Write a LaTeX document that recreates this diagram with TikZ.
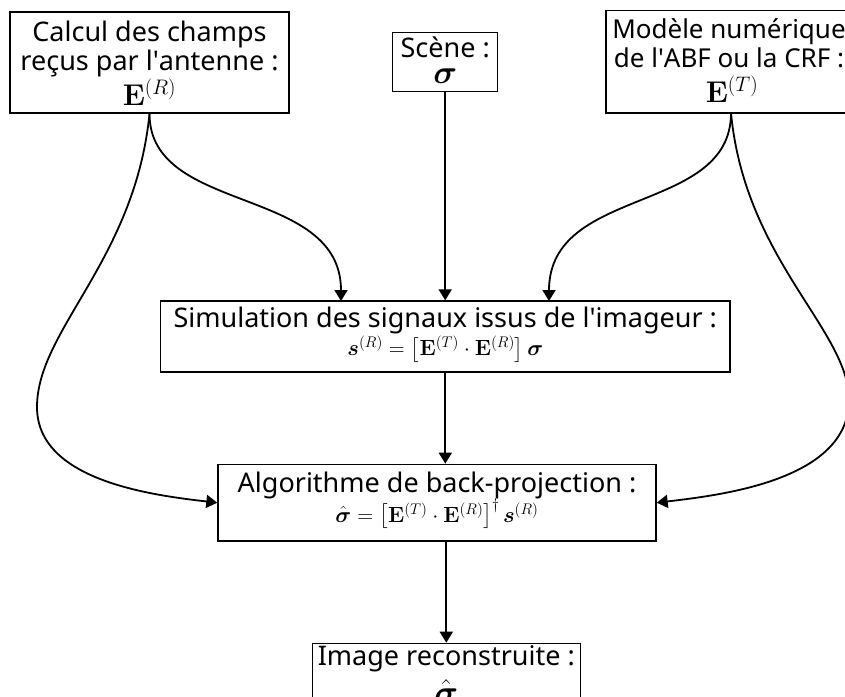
\RequirePackage{fix-cm}
\documentclass[tikz,border=0pt]{standalone}
\usepackage{amsmath}
\usepackage{bm}
\usepackage[no-math]{fontspec}
\setmainfont{Noto Sans}
\usetikzlibrary{arrows.meta}
\begin{document}
\begin{tikzpicture}[x=1pt,y=-1pt,
  box/.style={draw, line width=1.4pt, inner sep=0pt},
  lbl/.style={anchor=base, inner sep=0pt, font=\fontsize{27}{32}\selectfont},
  bigm/.style={anchor=base, inner sep=0pt, font=\fontsize{30}{32}\selectfont},
  midm/.style={anchor=base, inner sep=0pt, font=\fontsize{22}{24}\selectfont},
  sigm/.style={anchor=base, inner sep=0pt, font=\fontsize{33}{34}\selectfont},
  conn/.style={line width=1.8pt, -{Triangle[length=11pt,width=13pt]}},
]
\clip (0,0) rectangle (845,696);
% boxes
\node[box, minimum width=279pt, minimum height=101pt] (calc) at (149.5,62.5) {};
\node[box, minimum width=105pt, minimum height=59.4pt] (scene) at (445.2,62) {};
\node[box, minimum width=260pt, minimum height=102.5pt] (abf) at (736,61.75) {};
\node[box, minimum width=569.5pt, minimum height=71pt] (sim) at (445.25,336.5) {};
\node[box, minimum width=438pt, minimum height=76.7pt] (algo) at (437,502.7) {};
\node[box, minimum width=268pt, minimum height=60pt, anchor=north] (img) at (446.3,642.7) {};
% texts
\node[lbl] (calc1) at (calc.center |- 0,41) {Calcul des champs};
\node[lbl] (calc2) at (calc.center |- 0,70) {reçus par l\textquotesingle antenne :};
\node[bigm] (calc3) at (calc.center |- 0,105) {$\mathbf{E}^{(R)}$};
\node[lbl] (scene1) at (scene.center |- 0,57) {Scène :};
\node[sigm] (scene2) at (scene.center |- 0,83) {$\bm{\sigma}$};
\node[lbl, font=\fontsize{26}{31}\selectfont] (abf1) at (729,38) {Modèle numérique};
\node[lbl, font=\fontsize{26}{31}\selectfont] (abf2) at (729,67) {de l\textquotesingle ABF ou la CRF :};
\node[bigm] (abf3) at (732,102) {$\mathbf{E}^{(T)}$};
\node[lbl] (sim1) at (sim.center |- 0,327) {Simulation des signaux issus de l\textquotesingle imageur :};
\node[midm] (sim2) at (sim.center |- 0,355.5) {$\bm{s}^{(R)}=\bigl[\mathbf{E}^{(T)}\cdot\mathbf{E}^{(R)}\bigr]\,\bm{\sigma}$};
\node[lbl] (algo1) at (algo.center |- 0,492.5) {Algorithme de back-projection :};
\node[midm] (algo2) at (algo.center |- 0,522) {$\hat{\bm{\sigma}}=\bigl[\mathbf{E}^{(T)}\cdot\mathbf{E}^{(R)}\bigr]^{\dagger}\,\bm{s}^{(R)}$};
\node[lbl] (img1) at (img.center |- 0,665) {Image reconstruite :};
\node[sigm] (img2) at (img.center |- 0,703) {$\hat{\bm{\sigma}}$};

\coordinate (axis) at (445.3,0);
\coordinate (simL) at (341,301);
\coordinate (simR) at (549,301);
\coordinate (abfout) at (731,113);

\draw[conn] (scene.south) -- (scene.south |- sim.north);
\draw[conn] (axis |- sim.south) -- (axis |- algo.north);
\draw[conn] (img.north |- algo.south) -- (img.north);

\draw[conn] (calc.south) .. controls (149.5,215) and (341,185) .. (simL);
\draw[conn] (abfout) .. controls (731,215) and (549,185) .. (simR);

\draw[conn] (calc.south) .. controls (135,260) and (37,330) .. (37,407)
  .. controls (37,480) and (150,495) .. (algo.west);
\draw[conn] (abfout) .. controls (745,260) and (849,330) .. (849,400)
  .. controls (849,480) and (722,495) .. (algo.east);
\end{tikzpicture}
\end{document}
